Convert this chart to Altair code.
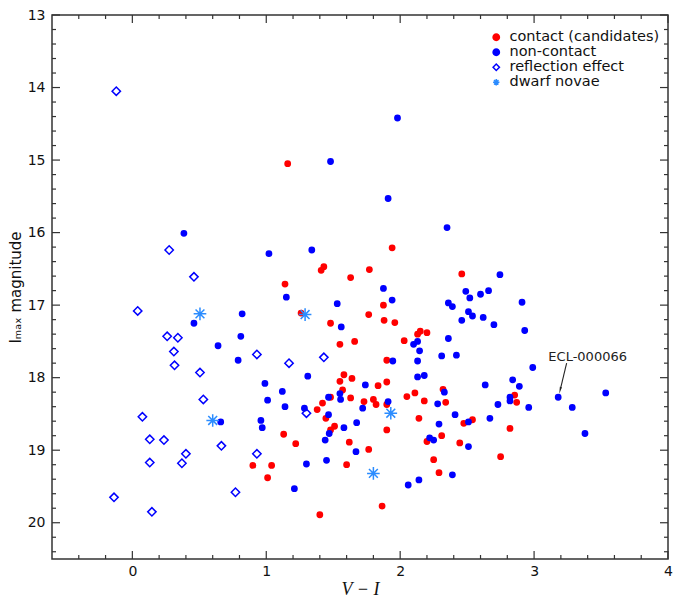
import altair as alt
import pandas as pd

# ---------------- data ----------------
contact_vi = [1.16, 1.14, 1.43, 1.41, 1.77, 1.63, 2.46, 1.94, 1.875, 1.26,
              1.765, 1.48, 1.88, 1.96, 2.13, 2.15, 2.20, 2.03, 1.55, 1.66,
              1.90, 1.58, 1.55, 1.64, 1.835, 1.90, 1.57, 2.32, 1.48, 1.63,
              1.73, 1.80, 1.82, 1.90, 2.05, 2.11, 2.18, 2.34, 1.42, 1.38,
              1.445, 2.14, 2.475, 2.54, 1.51, 1.48, 1.90, 1.13, 1.22, 1.62,
              1.765, 1.60, 1.865, 1.40, 2.20, 2.31, 2.445, 2.25, 2.29, 0.90,
              1.04, 1.01, 2.855, 2.87, 2.82, 2.75]
contact_i = [15.05, 16.71, 16.47, 16.52, 16.51, 16.62, 16.57, 16.21, 17.00, 17.11,
             17.13, 17.25, 17.21, 17.24, 17.40, 17.36, 17.38, 17.49, 17.54, 17.50,
             17.76, 17.96, 18.05, 18.01, 18.11, 18.06, 18.17, 18.16, 18.27, 18.28,
             18.33, 18.30, 18.37, 18.37, 18.26, 18.21, 18.32, 18.34, 18.35, 18.44,
             18.56, 18.56, 18.63, 18.58, 18.67, 18.72, 18.72, 18.78, 18.91, 18.89,
             18.99, 19.20, 19.77, 19.89, 18.88, 18.80, 18.90, 19.13, 19.31, 19.21,
             19.21, 19.38, 18.24, 18.34, 18.70, 19.09]

noncontact_vi = [1.98, 1.48, 1.91, 2.35, 1.34, 0.385, 1.02, 1.875, 2.49, 1.15,
                 1.94, 2.52, 2.60, 2.66, 2.745, 2.91, 1.53, 2.36, 2.39, 2.51,
                 2.54, 1.56, 2.46, 2.62, 2.70, 2.93, 2.10, 2.13, 2.36, 2.145,
                 2.31, 2.42, 1.945, 2.13, 1.31, 2.13, 2.18, 1.74, 2.33, 1.465,
                 1.555, 1.55, 1.91, 2.28, 1.285, 1.72, 1.465, 2.41, 2.51, 1.675,
                 2.29, 1.58, 1.47, 1.44, 1.67, 1.30, 1.45, 1.21, 2.22, 2.25,
                 2.51, 2.39, 2.06, 2.14, 2.635, 2.73, 2.67, 2.99, 2.84, 2.89,
                 3.18, 3.535, 2.82, 2.82, 2.96, 3.285, 3.38, 0.82, 0.46, 0.81,
                 0.64, 0.79, 0.99, 1.12, 1.01, 1.14, 0.66, 0.96, 0.97]
noncontact_i = [14.42, 15.02, 15.53, 15.93, 16.24, 16.01, 16.29, 16.77, 16.81, 16.89,
                16.93, 16.90, 16.85, 16.80, 16.58, 16.96, 16.98, 16.97, 17.02, 17.09,
                17.15, 17.30, 17.21, 17.17, 17.27, 17.35, 17.54, 17.50, 17.46, 17.63,
                17.70, 17.69, 17.77, 17.77, 17.98, 17.99, 17.97, 18.10, 18.20, 18.27,
                18.30, 18.22, 18.33, 18.36, 18.42, 18.42, 18.51, 18.51, 18.61, 18.62,
                18.64, 18.69, 18.77, 18.86, 19.02, 19.19, 19.14, 19.53, 18.83, 18.86,
                18.95, 19.34, 19.48, 19.41, 18.10, 18.37, 18.56, 17.86, 18.03, 18.12,
                18.27, 18.21, 18.27, 18.32, 18.41, 18.41, 18.77, 17.12, 17.25, 17.43,
                17.56, 17.76, 18.08, 18.19, 18.31, 18.40, 18.61, 18.59, 18.69]

reflection_vi = [-0.12, 0.275, 0.46, 0.04, 0.26, 0.34, 0.31, 0.93, 0.315, 1.17,
                 1.43, 0.505, 0.53, 0.075, 1.30, 0.13, 0.236, 0.665, 0.40, 0.93,
                 0.13, 0.37, 0.77, -0.137, 0.146]
reflection_i = [14.05, 16.24, 16.61, 17.08, 17.43, 17.45, 17.64, 17.68, 17.83, 17.80,
                17.72, 17.93, 18.30, 18.54, 18.49, 18.85, 18.86, 18.94, 19.05, 19.05,
                19.17, 19.18, 19.58, 19.65, 19.85]

dwarf_vi = [0.505, 1.29, 0.60, 1.93, 1.80]
dwarf_i = [17.12, 17.13, 18.59, 18.49, 19.32]

type_order = ["contact (candidates)", "non-contact", "reflection effect", "dwarf novae"]

x_major = [0, 1, 2, 3, 4]
y_major = [13, 14, 15, 16, 17, 18, 19, 20]

label_vi = [3.40]
label_i = [17.71]
label_text = ["ECL-000066"]
arrow_vi = [3.243]
arrow_i = [17.80]
arrow_vi2 = [3.196]
arrow_i2 = [18.16]

# ---------------- tables ----------------
series = [(type_order[0], contact_vi, contact_i),
          (type_order[1], noncontact_vi, noncontact_i),
          (type_order[2], reflection_vi, reflection_i),
          (type_order[3], dwarf_vi, dwarf_i)]

x_minor = [round(-0.6 + 0.2 * k, 1) for k in range(1, 23)]
x_minor = [v for v in x_minor if abs(v - round(v)) > 1e-6]
y_minor = [round(13 + 0.2 * k, 1) for k in range(1, 38)]
y_minor = [v for v in y_minor if abs(v - round(v)) > 1e-6]

W, H = 616, 544
MAJ, MIN = 8, 4
FRAME = "#333333"
FONT = "DejaVu Sans"
STAR = "M-1,0L1,0M0,-1L0,1M-0.7,-0.7L0.7,0.7M-0.7,0.7L0.7,-0.7"

xs = alt.Scale(domain=[-0.6, 4.0], nice=False, zero=False)
ys = alt.Scale(domain=[13, 20.5], nice=False, zero=False, reverse=True)

x_axis = alt.Axis(values=x_major, ticks=False, domain=False, grid=False,
                  labelFontSize=14, labelFont=FONT, labelPadding=5, labelColor="#111",
                  labelFlush=False, labelOverlap=False, format="d",
                  title="V − I", titleFont="Liberation Serif", titleFontStyle="italic",
                  titleFontSize=18, titleFontWeight="normal", titleColor="#111",
                  titlePadding=2)
y_axis = alt.Axis(values=y_major, ticks=False, domain=False, grid=False,
                  labelFontSize=14, labelFont=FONT, labelPadding=7, labelColor="#111",
                  labelFlush=False, labelOverlap=False, format="d",
                  title="Iₘₐₓ magnitude", titleFont=FONT, titleFontSize=15,
                  titleFontWeight="normal", titleColor="#111", titlePadding=4)

leg = alt.Legend(title=None, orient="none", legendX=437, legendY=15,
                 labelFontSize=14.5, labelFont=FONT, labelColor="#111",
                 rowPadding=0, symbolStrokeWidth=1.5, labelOffset=6, symbolSize=40)

shape_scale = alt.Scale(domain=type_order, range=["circle", "circle", "diamond", STAR])
fill_scale = alt.Scale(domain=type_order, range=["#ff0000", "#0000ff", "transparent", "transparent"])
stroke_scale = alt.Scale(domain=type_order, range=["#ff0000", "#0000ff", "#0000ff", "#2b8cff"])
sizes = [28, 28, 70, 160]

point_layers = []
for (name, xv, yv), sz in zip(series, sizes):
    d = pd.DataFrame({"vi": xv, "imax": yv, "type": name})
    point_layers.append(
        alt.Chart(d).mark_point(opacity=1, strokeWidth=1.5, size=sz).encode(
            x=alt.X("vi:Q", scale=xs, axis=x_axis),
            y=alt.Y("imax:Q", scale=ys, axis=y_axis),
            shape=alt.Shape("type:N", scale=shape_scale, legend=leg),
            fill=alt.Fill("type:N", scale=fill_scale, legend=leg),
            stroke=alt.Stroke("type:N", scale=stroke_scale, legend=leg),
        )
    )

# inward ticks on all four sides
def xticks(vals, length):
    d = pd.DataFrame({"vi": vals})
    bot = alt.Chart(d).mark_rule(color=FRAME, strokeWidth=1.2).encode(
        x=alt.X("vi:Q", scale=xs, axis=x_axis), y=alt.value(H), y2=alt.value(H - length))
    top = alt.Chart(d).mark_rule(color=FRAME, strokeWidth=1.2).encode(
        x=alt.X("vi:Q", scale=xs, axis=x_axis), y=alt.value(0), y2=alt.value(length))
    return [bot, top]

def yticks(vals, length):
    d = pd.DataFrame({"imax": vals})
    left = alt.Chart(d).mark_rule(color=FRAME, strokeWidth=1.2).encode(
        y=alt.Y("imax:Q", scale=ys, axis=y_axis), x=alt.value(0), x2=alt.value(length))
    right = alt.Chart(d).mark_rule(color=FRAME, strokeWidth=1.2).encode(
        y=alt.Y("imax:Q", scale=ys, axis=y_axis), x=alt.value(W), x2=alt.value(W - length))
    return [left, right]

ticks = xticks(x_major, MAJ) + xticks(x_minor, MIN) + yticks(y_major, MAJ) + yticks(y_minor, MIN)

ann_df = pd.DataFrame({"vi": label_vi, "imax": label_i, "text": label_text})
ann = alt.Chart(ann_df).mark_text(font=FONT, fontSize=13, color="#222").encode(
    x=alt.X("vi:Q", scale=xs, axis=x_axis), y=alt.Y("imax:Q", scale=ys, axis=y_axis),
    text="text:N")

arr_df = pd.DataFrame({"vi": arrow_vi, "imax": arrow_i, "vi2": arrow_vi2, "imax2": arrow_i2})
arrow_line = alt.Chart(arr_df).mark_rule(color="#222", strokeWidth=1.1).encode(
    x=alt.X("vi:Q", scale=xs, axis=x_axis), y=alt.Y("imax:Q", scale=ys, axis=y_axis),
    x2="vi2:Q", y2="imax2:Q")
arr_head_df = pd.DataFrame({"vi": arrow_vi2, "imax": arrow_i2})
arrow_head = alt.Chart(arr_head_df).mark_point(shape="wedge", filled=True, size=70, angle=193,
                                               color="#222", opacity=1).encode(
    x=alt.X("vi:Q", scale=xs, axis=x_axis), y=alt.Y("imax:Q", scale=ys, axis=y_axis))

chart = alt.layer(*point_layers, *ticks, arrow_line, arrow_head, ann).properties(
    width=W, height=H,
    autosize=alt.AutoSizeParams(type="none"),
    padding={"left": 44, "top": 7, "right": 5, "bottom": 38},
).configure_view(stroke=FRAME, strokeWidth=1.5)

chart.save("out.html", embed_options={"renderer": "svg", "actions": False})
